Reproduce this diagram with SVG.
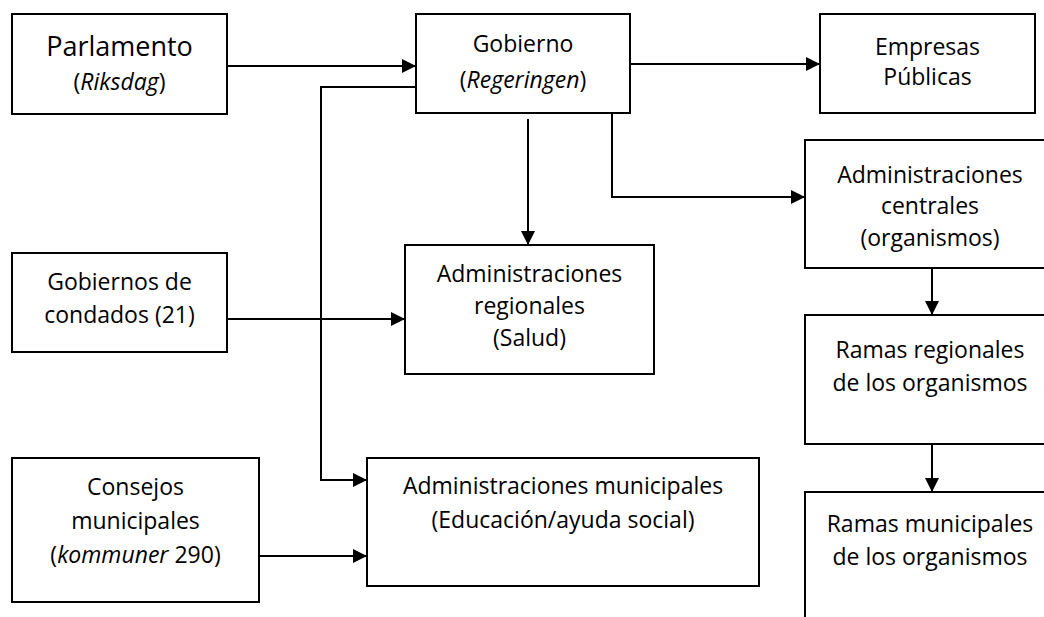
<svg xmlns="http://www.w3.org/2000/svg" width="1044" height="617" viewBox="0 0 1044 617">
<style>
.box{fill:#fff;stroke:#000;stroke-width:2}
.t{font-family:"Open Sans","Noto Sans",sans-serif;font-size:23px;fill:#000;text-anchor:middle}
.big{font-size:27px}
.i{font-style:italic}
.c{fill:none;stroke:#000;stroke-width:2}
</style>
<defs>
<marker id="ah" markerUnits="userSpaceOnUse" markerWidth="15" markerHeight="15" refX="14" refY="7" orient="auto">
<path d="M0,0 L14,7 L0,14 z" fill="#000"/>
</marker>
</defs>
<g id="connectors">
<path class="c" d="M227,66 H416" marker-end="url(#ah)"/>
<path class="c" d="M630,64 H820" marker-end="url(#ah)"/>
<path class="c" d="M416,87 H321 V480 H367" marker-end="url(#ah)"/>
<path class="c" d="M528,119 V245" marker-end="url(#ah)"/>
<path class="c" d="M612,113 V197 H805" marker-end="url(#ah)"/>
<path class="c" d="M932,268 V315" marker-end="url(#ah)"/>
<path class="c" d="M932,444 V492" marker-end="url(#ah)"/>
<path class="c" d="M227,319 H405" marker-end="url(#ah)"/>
<path class="c" d="M259,556 H367" marker-end="url(#ah)"/>
</g>
<g id="parlamento">
<rect class="box" x="12" y="14" width="215" height="100"/>
<text class="t big" x="119.5" y="56">Parlamento</text>
<text class="t" x="119.5" y="90">(<tspan class="i">Riksdag</tspan>)</text>
</g>
<g id="gobierno">
<rect class="box" x="416" y="14" width="214" height="99"/>
<text class="t" x="523" y="52">Gobierno</text>
<text class="t" x="523" y="88">(<tspan class="i">Regeringen</tspan>)</text>
</g>
<g id="empresas">
<rect class="box" x="820" y="14" width="215" height="99"/>
<text class="t" x="927.5" y="55">Empresas</text>
<text class="t" x="927.5" y="85">Públicas</text>
</g>
<g id="admin-centrales">
<rect class="box" x="805" y="140" width="260" height="128"/>
<text class="t" x="930" y="183">Administraciones</text>
<text class="t" x="930" y="214">centrales</text>
<text class="t" x="930" y="246">(organismos)</text>
</g>
<g id="ramas-regionales">
<rect class="box" x="805" y="315" width="260" height="129"/>
<text class="t" x="930" y="358">Ramas regionales</text>
<text class="t" x="930" y="391">de los organismos</text>
</g>
<g id="ramas-municipales">
<rect class="box" x="805" y="492" width="260" height="150"/>
<text class="t" x="930" y="532">Ramas municipales</text>
<text class="t" x="930" y="565">de los organismos</text>
</g>
<g id="gobiernos-condados">
<rect class="box" x="12" y="253" width="215" height="99"/>
<text class="t" x="119.5" y="290">Gobiernos de</text>
<text class="t" x="119.5" y="323">condados (21)</text>
</g>
<g id="admin-regionales">
<rect class="box" x="405" y="245" width="249" height="129"/>
<text class="t" x="529.5" y="282">Administraciones</text>
<text class="t" x="529.5" y="314">regionales</text>
<text class="t" x="529.5" y="346">(Salud)</text>
</g>
<g id="consejos">
<rect class="box" x="12" y="458" width="247" height="144"/>
<text class="t" x="135.5" y="495">Consejos</text>
<text class="t" x="135.5" y="529">municipales</text>
<text class="t" x="135.5" y="563">(<tspan class="i">kommuner</tspan> 290)</text>
</g>
<g id="admin-municipales">
<rect class="box" x="367" y="458" width="392" height="128"/>
<text class="t" x="563" y="494">Administraciones municipales</text>
<text class="t" x="563" y="528">(Educación/ayuda social)</text>
</g>
</svg>
